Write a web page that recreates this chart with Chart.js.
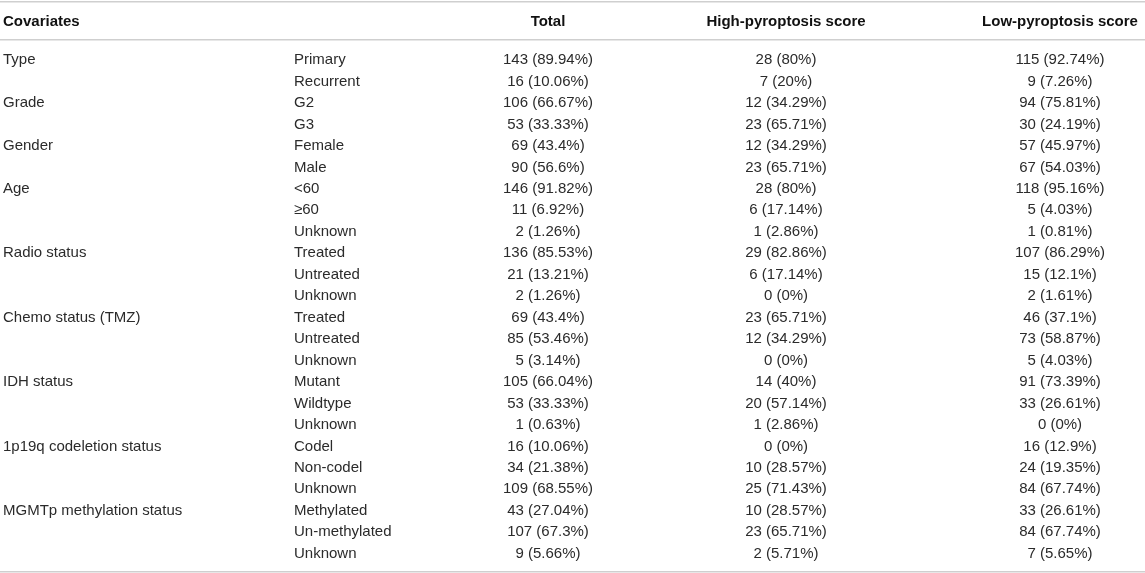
<!DOCTYPE HTML>
<html>

<head>
  <title>Covariates</title>
  <meta content="width=device-width, initial-scale=1.0" name="viewport">
  <script src="https://cdn.jsdelivr.net/npm/chart.js"></script>
  <style>
    body { margin: 0; background: #fff; }
    .chart-container { position: relative; width: 1145px; height: 573px; }
  </style>
</head>

<body>
  <div class="chart-container">
    <canvas id="tableChart"></canvas>
  </div>

  <script type="text/javascript">
    const ctx_table = document.getElementById('tableChart');

    var headers = ["Covariates", "Total", "High-pyroptosis score", "Low-pyroptosis score"];
    var groupNames = ["Type", "Grade", "Gender", "Age", "Radio status", "Chemo status (TMZ)", "IDH status", "1p19q codeletion status", "MGMTp methylation status"];
    var groupSizes = [2, 2, 2, 3, 3, 3, 3, 3, 3];
    var subLabels = ["Primary", "Recurrent", "G2", "G3", "Female", "Male", "<60", "≥60", "Unknown", "Treated", "Untreated", "Unknown",
      "Treated", "Untreated", "Unknown", "Mutant", "Wildtype", "Unknown", "Codel", "Non-codel", "Unknown", "Methylated", "Un-methylated", "Unknown"];

    var totalN   = [143, 16, 106, 53, 69, 90, 146, 11, 2, 136, 21, 2, 69, 85, 5, 105, 53, 1, 16, 34, 109, 43, 107, 9];
    var totalPct = [89.94, 10.06, 66.67, 33.33, 43.4, 56.6, 91.82, 6.92, 1.26, 85.53, 13.21, 1.26, 43.4, 53.46, 3.14, 66.04, 33.33, 0.63, 10.06, 21.38, 68.55, 27.04, 67.3, 5.66];
    var highN    = [28, 7, 12, 23, 12, 23, 28, 6, 1, 29, 6, 0, 23, 12, 0, 14, 20, 1, 0, 10, 25, 10, 23, 2];
    var highPct  = [80, 20, 34.29, 65.71, 34.29, 65.71, 80, 17.14, 2.86, 82.86, 17.14, 0, 65.71, 34.29, 0, 40, 57.14, 2.86, 0, 28.57, 71.43, 28.57, 65.71, 5.71];
    var lowN     = [115, 9, 94, 30, 57, 67, 118, 5, 1, 107, 15, 2, 46, 73, 5, 91, 33, 0, 16, 24, 84, 33, 84, 7];
    var lowPct   = [92.74, 7.26, 75.81, 24.19, 45.97, 54.03, 95.16, 4.03, 0.81, 86.29, 12.1, 1.61, 37.1, 58.87, 4.03, 73.39, 26.61, 0, 12.9, 19.35, 67.74, 26.61, 67.74, 5.65];

    // layout (x in px-like units of the x scale, y in row units)
    var colX = { group: 3, sub: 294, total: 548, high: 786, low: 1060 };
    var headerRow = -1.77;
    var ruleRows = [-2.73, -0.95, 23.82];

    function fmt(n, p) { return n + " (" + p + "%)"; }

    // group name rows
    var groupRows = [];
    var r = 0;
    for (let i = 0; i < groupSizes.length; i++) {
      groupRows.push(r);
      r += groupSizes[i];
    }

    function column(x, texts, rows, align, bold) {
      return {
        type: 'scatter',
        data: rows.map(function (row) { return { x: x, y: row }; }),
        texts: texts,
        align: align,
        bold: bold,
        pointRadius: 0,
        pointHoverRadius: 0,
      };
    }

    var rowIdx = subLabels.map(function (_, i) { return i; });

    var cellText = {
      id: 'cellText',
      afterDatasetsDraw(chart) {
        const c = chart.ctx;
        c.save();
        c.textBaseline = 'middle';
        chart.data.datasets.forEach(function (ds, di) {
          const meta = chart.getDatasetMeta(di);
          c.font = (ds.bold ? 'bold ' : '') + '15px "Liberation Sans", Arial, sans-serif';
          c.fillStyle = ds.bold ? '#111' : '#2b2b2b';
          c.textAlign = ds.align;
          meta.data.forEach(function (pt, i) {
            c.fillText(ds.texts[i], pt.x, pt.y);
          });
        });
        c.restore();
      }
    };

    var ChartTable = new Chart(ctx_table, {
      type: 'scatter',
      data: {
        datasets: [
          column(colX.group, [headers[0]], [headerRow], 'left', true),
          column(colX.total, [headers[1]], [headerRow], 'center', true),
          column(colX.high, [headers[2]], [headerRow], 'center', true),
          column(colX.low, [headers[3]], [headerRow], 'center', true),
          column(colX.group, groupNames, groupRows, 'left', false),
          column(colX.sub, subLabels, rowIdx, 'left', false),
          column(colX.total, totalN.map(function (n, i) { return fmt(n, totalPct[i]); }), rowIdx, 'center', false),
          column(colX.high, highN.map(function (n, i) { return fmt(n, highPct[i]); }), rowIdx, 'center', false),
          column(colX.low, lowN.map(function (n, i) { return fmt(n, lowPct[i]); }), rowIdx, 'center', false),
        ],
      },
      options: {
        responsive: true,
        maintainAspectRatio: false,
        animation: false,
        events: [],
        layout: { padding: 0 },
        plugins: {
          legend: { display: false },
          tooltip: { enabled: false },
        },
        scales: {
          x: { type: 'linear', min: 0, max: 1145, display: false },
          y: {
            type: 'linear',
            reverse: true,
            min: -2.8,
            max: 23.9,
            afterBuildTicks: function (scale) {
              scale.ticks = ruleRows.map(function (v) { return { value: v }; });
            },
            ticks: { display: false, padding: 0 },
            border: { display: false },
            grid: { color: '#cfcfcf', lineWidth: 1.5, drawTicks: false },
          },
        },
      },
      plugins: [cellText],
    });
  </script>
</body>

</html>
